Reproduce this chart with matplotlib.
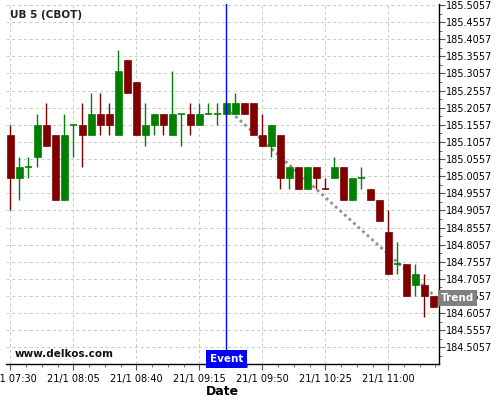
import datetime as dt
import numpy as np
import matplotlib
matplotlib.use('Agg')
import matplotlib.pyplot as plt
import matplotlib.dates as mdates
import matplotlib.transforms as mtransforms
from matplotlib.ticker import FixedLocator, AutoMinorLocator, FuncFormatter

symbol = 'UB 5 (CBOT)'
session_start = dt.datetime(2025, 1, 21, 7, 30)
bar_minutes = 5

# prices quoted in 32nds above 185
base_price = 185.0
opens  = [4, 0, 1, 2, 5, 4, -2, 5, 5, 4, 6, 6, 4, 11, 9, 4, 5, 6, 4, 6, 6, 5, 6, 6,
          6, 6, 7, 7, 4, 3, 4, 0, 1, -1, 1, -1, 0, 1, -2, 0, -1, -2, -5, -8, -8, -10, -10, -11]
highs  = [5, 2, 2, 6, 7, 4, 6, 5, 7, 8, 8, 7, 12, 11, 9, 7, 6, 6, 10, 6, 7, 7, 7, 7,
          7, 8, 7, 7, 6, 5, 4, 1, 1, 1, 1, 0, 2, 1, 0, 1, -1, -2, -3, -6, -8, -8, -9, -11]
lows   = [-3, -2, 0, 1, 3, -2, -2, 2, 1, 4, 4, 4, 4, 8, 4, 3, 4, 4, 4, 3, 4, 5, 6, 5,
          6, 6, 6, 4, 3, 2, -1, -1, -1, -1, -1, -1, 0, -2, -2, -1, -2, -4, -9, -9, -11, -11, -13, -12]
closes = [0, 1, 1, 5, 3, -2, 4, 5, 4, 6, 5, 5, 10, 8, 4, 5, 6, 5, 6, 6, 5, 6, 6, 6,
          7, 7, 6, 4, 3, 5, 0, 1, -1, 1, 0, -1, 1, -2, 0, 0, -2, -4, -9, -8, -11, -9, -11, -12]
red_dojis = ['10:25']

event_time = dt.datetime(2025, 1, 21, 9, 30)
trend_times = [dt.datetime(2025, 1, 21, 9, 30), dt.datetime(2025, 1, 21, 11, 27)]
trend_prices = [185.205, 184.65]

ytick_first = 184.5057
ytick_step = 0.05
ytick_count = 21

up_color = '#008000'
down_color = '#800000'

times = [session_start + dt.timedelta(minutes=bar_minutes * i) for i in range(len(opens))]
to_price = lambda k: base_price + k / 32.0

fig = plt.figure(figsize=(5, 4), dpi=100)
ax = fig.add_axes([0.012, 0.09, 0.866, 0.90])

body_w = 3.9 / 1440.0
for t, o, h, l, c in zip(times, opens, highs, lows, closes):
    x = mdates.date2num(t)
    up = c > o or (c == o and t.strftime('%H:%M') not in red_dojis)
    col = up_color if up else down_color
    ax.vlines(x, to_price(l), to_price(h), color=col, linewidth=1, zorder=3)
    if c == o:
        ax.hlines(to_price(c), x - body_w / 2, x + body_w / 2, color=col, linewidth=1.2, zorder=3)
    else:
        lo, hi = sorted([to_price(o), to_price(c)])
        ax.add_patch(plt.Rectangle((x - body_w / 2, lo), body_w, hi - lo,
                                   facecolor=col, edgecolor=col, linewidth=0.5, zorder=4))

# trend line
ax.plot(mdates.date2num(trend_times), trend_prices, color='#909090', linewidth=2,
        linestyle=(0, (1, 1.2)), zorder=2)

# event line
ev = mdates.date2num(event_time)
ax.axvline(ev, color='blue', linewidth=1, zorder=5)
ax.text(ev, 0.0, 'Event', transform=mtransforms.blended_transform_factory(ax.transData, ax.transAxes),
        ha='center', va='bottom', color='white', fontsize=7.5, fontweight='bold', zorder=6,
        bbox=dict(boxstyle='square,pad=0.35', facecolor='blue', edgecolor='none'))

ax.text(1.004, trend_prices[-1], 'Trend',
        transform=mtransforms.blended_transform_factory(ax.transAxes, ax.transData),
        ha='left', va='center', color='white', fontsize=7.5, fontweight='bold', zorder=10,
        clip_on=False, bbox=dict(boxstyle='square,pad=0.25', facecolor='#808080', edgecolor='none'))

ax.text(0.009, 0.969, symbol, transform=ax.transAxes, ha='left', va='center',
        fontsize=7.5, fontweight='bold', color='#222222')
ax.text(0.021, 0.028, 'www.delkos.com', transform=ax.transAxes, ha='left', va='center',
        fontsize=7.5, fontweight='bold', color='#111111')

# axes
ax.set_xlim(mdates.date2num(session_start - dt.timedelta(minutes=2.4)),
            mdates.date2num(session_start + dt.timedelta(minutes=238.2)))
ax.set_ylim(184.4572, 185.5086)

ax.xaxis.set_major_locator(FixedLocator(mdates.date2num(times[::7])))
ax.xaxis.set_minor_locator(AutoMinorLocator(4))
ax.xaxis.set_major_formatter(FuncFormatter(
    lambda v, p: (lambda d: f'{d.day}/{d.month} {d:%H:%M}')(mdates.num2date(v))))

yt = [ytick_first + ytick_step * i for i in range(ytick_count)]
ax.yaxis.set_major_locator(FixedLocator(yt))
ax.yaxis.set_minor_locator(AutoMinorLocator(2))
ax.yaxis.set_major_formatter(FuncFormatter(lambda v, p: f'{v:.4f}'))
ax.yaxis.tick_right()

ax.tick_params(axis='both', which='major', labelsize=7, length=4, width=0.8, color='#555555')
ax.tick_params(axis='both', which='minor', length=2, width=0.6, color='#555555')
ax.tick_params(axis='y', pad=1)
ax.tick_params(axis='x', pad=3)

for s in ['top', 'left']:
    ax.spines[s].set_visible(False)
for s in ['bottom', 'right']:
    ax.spines[s].set_linewidth(1)
    ax.spines[s].set_color('black')

ax.grid(True, which='major', color='#c8c8c8', linestyle=(0, (3, 3)), linewidth=0.7)
ax.set_axisbelow(True)

ax.set_xlabel('Date', fontsize=9, fontweight='bold', labelpad=1)

fig.savefig('out.png', dpi=100, facecolor='white')
